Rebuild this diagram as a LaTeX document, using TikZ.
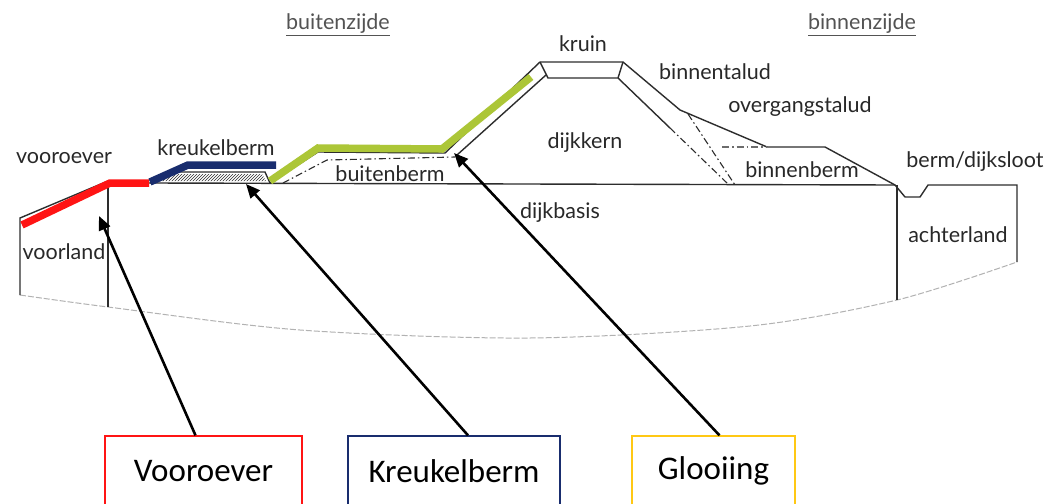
\documentclass[tikz,border=0pt]{standalone}
\usepackage{fontspec}
\setmainfont{Lato}
\newfontfamily\boxfont{Carlito}
\usetikzlibrary{patterns,arrows.meta}

\definecolor{vred}{RGB}{255,20,20}
\definecolor{kblue}{RGB}{25,45,110}
\definecolor{ggreen}{RGB}{172,198,55}
\definecolor{gyellow}{RGB}{255,200,20}
\definecolor{lijn}{RGB}{45,45,45}
\definecolor{tekst}{RGB}{40,40,40}

\tikzset{
  dijklijn/.style={draw=lijn,line width=1.4pt},
  hulplijn/.style={draw=lijn,line width=1.1pt,dash pattern=on 7pt off 3pt on 1.5pt off 3pt},
  laag/.style={line width=7.5pt,line cap=butt,line join=miter},
  lbl/.style={text=tekst,font=\fontsize{21.5}{24}\selectfont,inner sep=0pt},
  labelbox/.style={draw,line width=1.3pt,minimum height=70pt,inner sep=0pt,
    font=\boxfont\fontsize{33}{36}\selectfont},
  pijl/.style={line width=2.6pt,-{Triangle[length=14pt,width=12pt]}}
}

\begin{document}
\begin{tikzpicture}[x=1pt,y=-1pt]
\clip (0,0) rectangle (1054,503);
\fill[white] (0,0) rectangle (1054,503);

% ondergrond en dijklichaam
\draw[gray!60,line width=1pt,dash pattern=on 6pt off 2pt] plot[smooth] coordinates {(20,295) (108,307) (300,330) (530,338) (750,326) (897,300) (1017,262)};
\draw[dijklijn] (20,295) -- (20,218) -- (108,181) -- (150,183);
\draw[dijklijn] (108,183) -- (108,307);
\draw[dijklijn] (150,183) -- (895,185);
\draw[dijklijn] (150,183) -- (175,172) -- (265,172) -- (270,183);
\fill[pattern=north east lines,pattern color=lijn] (160,181) -- (177,174) -- (262,174) -- (266,181) -- cycle;
\draw[dijklijn] (270,183) -- (318,152) -- (445,153) -- (540,62) -- (623,62)
  -- (680,110) -- (767,147) -- (825,147) -- (895,185)
  -- (905,197) -- (920,197) -- (928,185) -- (1017,185) -- (1017,262);
\draw[dijklijn] (897,185) -- (897,300);
% kruin en kern
\draw[dijklijn] (540,62) -- (548,78) -- (618,78) -- (623,62);
\draw[dijklijn] (457,155) -- (546,75);
\draw[dijklijn] (618,78) -- (670,128);
\draw[hulplijn] (670,128) -- (727,183);
\draw[hulplijn] (688,114) -- (735,185);
\draw[hulplijn,lijn!70] (722,147) -- (767,147);
\draw[hulplijn] (283,183) -- (327,160) -- (455,157);

% bekleding
\draw[laag,vred] (22,225) -- (110,183) -- (149,183);
\draw[laag,kblue] (150,182) -- (188,165) -- (276,165);
\draw[laag,ggreen] (270,181) -- (318,148) -- (442,149) -- (531,77);

% benamingen
\node[lbl,text=tekst!80] (buitenzijde) at (338,25) {\underline{buitenzijde}};
\node[lbl,text=tekst!80] (binnenzijde) at (862,25) {\underline{binnenzijde}};
\node[lbl] (vooroever) at (64,158) {vooroever};
\node[lbl] (voorland) at (64,252) {voorland};
\node[lbl] (kreukelberm) at (216,148) {kreukelberm};
\node[lbl] (buitenberm) at (390,174) {buitenberm};
\node[lbl] (kruin) at (583,44) {kruin};
\node[lbl] (dijkkern) at (585,143) {dijkkern};
\node[lbl] (dijkbasis) at (560,213) {dijkbasis};
\node[lbl] (binnentalud) at (715,72) {binnentalud};
\node[lbl] (overgangstalud) at (800,107) {overgangstalud};
\node[lbl] (binnenberm) at (802,170) {binnenberm};
\node[lbl] (bermsloot) at (975,162) {berm/dijksloot};
\node[lbl] (achterland) at (958,235) {achterland};

% onderdelen met pijlen
\node[labelbox,draw=vred,minimum width=197pt] (vooroeverbox) at (203.5,471) {Vooroever};
\node[labelbox,draw=kblue,minimum width=212pt] (kreukelbermbox) at (454,471) {Kreukelberm};
\node[labelbox,draw=gyellow,minimum width=163pt] (glooiingbox) at (713.5,471) {Glooiing};

\coordinate (vooroeverpunt) at (99,216);
\coordinate (kreukelpunt) at (246,184);
\coordinate (glooiingpunt) at (454,153);
\draw[pijl] ([xshift=-8pt]vooroeverbox.north) -- (vooroeverpunt);
\draw[pijl] ([xshift=14pt]kreukelbermbox.north) -- (kreukelpunt);
\draw[pijl] ([xshift=6pt]glooiingbox.north) -- (glooiingpunt);
\end{tikzpicture}
\end{document}
